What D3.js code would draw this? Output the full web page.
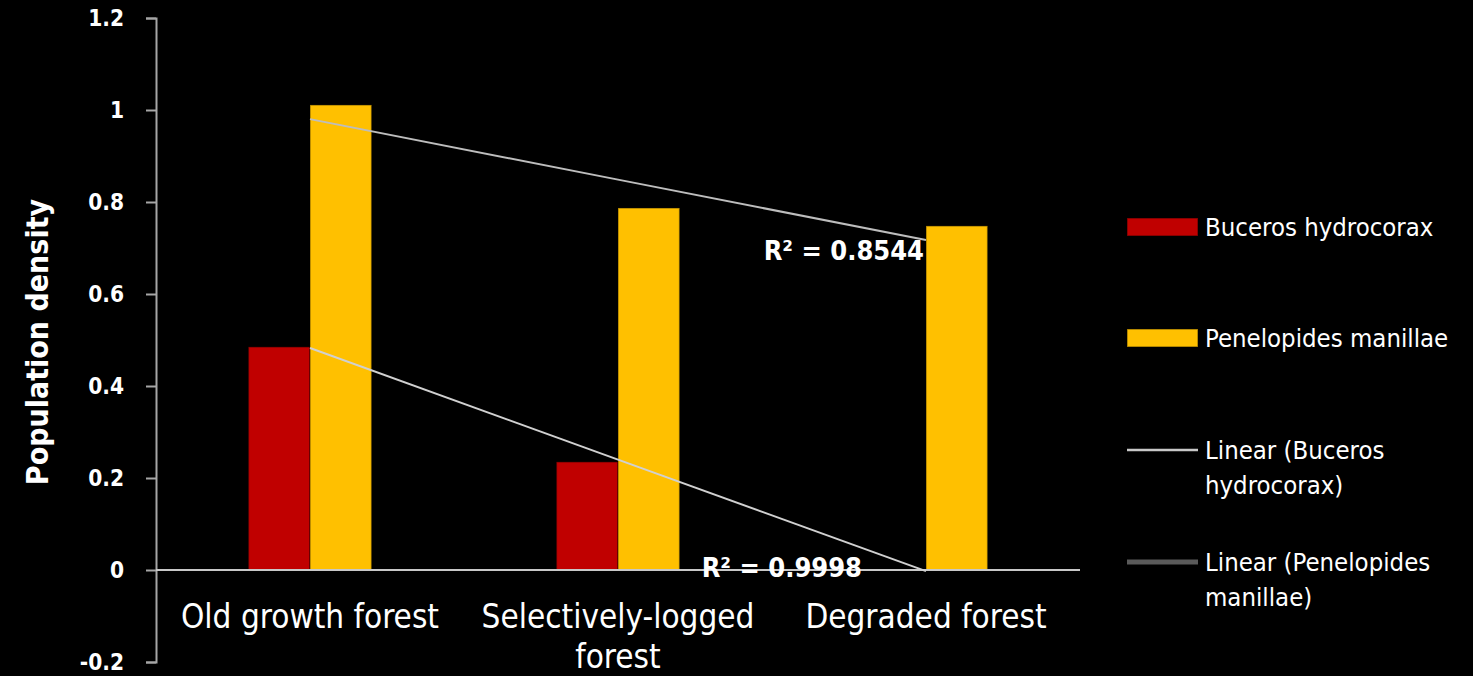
<!DOCTYPE html>
<html lang="en">
<head>
    <meta charset="UTF-8">
    <title>Population density</title>
    <script src="https://d3js.org/d3.v7.min.js"></script>
    <style>
        body { margin: 0; background: #000; }
        svg { display: block; }
        text { fill: #fff; font-family: "Liberation Sans Narrow", "DejaVu Sans Condensed", "Roboto", sans-serif; }
        .tick text { font-weight: bold; font-size: 22.5px; }
        .axis path, .axis line { stroke: #a6a6a6; stroke-width: 2px; }
    </style>
</head>
<body>
    <div id="chart"></div>
    <script>
        // Data
        const categories = ["Old growth forest", "Selectively-logged forest", "Degraded forest"];
        const series = ["Buceros hydrocorax", "Penelopides manillae"];
        const buceros = [0.485, 0.235, 0];
        const penelopides = [1.011, 0.787, 0.748];
        const rSquared = ["0.9998", "0.8544"];
        const yTicks = [-0.2, 0, 0.2, 0.4, 0.6, 0.8, 1, 1.2];
        const colors = ["#c00000", "#ffc000"];

        const W = 1473, H = 676;
        const plotLeft = 156, plotRight = 1080, plotTop = 18, plotBottom = 662;

        const svg = d3.select("#chart").append("svg")
            .attr("width", W)
            .attr("height", H);

        const values = [buceros, penelopides];

        // Scales
        const x0 = d3.scaleBand().domain(categories).range([plotLeft, plotRight]).paddingInner(0.6).paddingOuter(0.3);
        const x1 = d3.scaleBand().domain(series).range([0, x0.bandwidth()]);
        const y = d3.scaleLinear().domain([-0.2, 1.2]).range([plotBottom, plotTop]);

        // Bars
        series.forEach((s, si) => {
            svg.append("g").selectAll("rect")
                .data(values[si])
                .enter().append("rect")
                .attr("x", (d, i) => x0(categories[i]) + x1(s))
                .attr("y", d => y(Math.max(0, d)))
                .attr("width", x1.bandwidth())
                .attr("height", d => Math.abs(y(d) - y(0)))
                .attr("fill", colors[si])
                .attr("stroke", "rgba(0,0,0,0.35)")
                .attr("stroke-width", 1.5);
        });

        // Y axis
        svg.append("g")
            .attr("class", "axis")
            .attr("transform", "translate(" + plotLeft + ",0)")
            .call(d3.axisLeft(y).tickValues(yTicks).tickSize(10).tickSizeOuter(10).tickPadding(22)
                .tickFormat(d => String(+d.toFixed(1))));

        // Zero line
        svg.append("line")
            .attr("x1", plotLeft).attr("x2", plotRight)
            .attr("y1", y(0)).attr("y2", y(0))
            .attr("stroke", "#c8c8c8")
            .attr("stroke-width", 2);

        // Linear trendlines (least squares over category index)
        function fit(vals) {
            const xs = vals.map((d, i) => i + 1);
            const mx = d3.mean(xs), my = d3.mean(vals);
            const b = d3.sum(xs, (xv, i) => (xv - mx) * (vals[i] - my)) / d3.sum(xs, xv => (xv - mx) * (xv - mx));
            const a = my - b * mx;
            return xs.map(xv => a + b * xv);
        }
        const cx = c => x0(c) + x0.bandwidth() / 2;
        const trendColors = ["#d0d0d0", "#bdbdbd"];
        const labelShift = [[-64, 6], [-2, 20]];
        values.forEach((vals, si) => {
            const pts = fit(vals);
            const line = d3.line().x((d, i) => cx(categories[i])).y(d => y(d));
            svg.append("path")
                .datum(pts)
                .attr("d", line)
                .attr("fill", "none")
                .attr("stroke", trendColors[si])
                .attr("stroke-width", 2);
            const last = pts[pts.length - 1];
            svg.append("text")
                .attr("x", cx(categories[2]) + labelShift[si][0])
                .attr("y", y(last) + labelShift[si][1])
                .attr("text-anchor", "end")
                .attr("font-size", "27px")
                .attr("font-weight", "bold")
                .text("R² = " + rSquared[si]);
        });

        // Category labels
        const wrapped = [["Old growth forest"], ["Selectively-logged", "forest"], ["Degraded forest"]];
        categories.forEach((c, i) => {
            const t = svg.append("text")
                .attr("x", cx(c))
                .attr("y", 628)
                .attr("text-anchor", "middle")
                .attr("font-size", "33px");
            wrapped[i].forEach((ln, j) => {
                t.append("tspan").attr("x", cx(c)).attr("dy", j === 0 ? 0 : 40).text(ln);
            });
        });

        // Y axis title
        svg.append("text")
            .attr("transform", "translate(48,342) rotate(-90)")
            .attr("text-anchor", "middle")
            .attr("font-size", "30px")
            .attr("font-weight", "bold")
            .text("Population density");

        // Legend
        const legendItems = [
            {type: "rect", color: colors[0], lines: ["Buceros hydrocorax"]},
            {type: "rect", color: colors[1], lines: ["Penelopides manillae"]},
            {type: "line", color: "#c8c8c8", width: 2.5, lines: ["Linear (Buceros", "hydrocorax)"]},
            {type: "line", color: "#5a5a5a", width: 5, lines: ["Linear (Penelopides", "manillae)"]}
        ];
        const legendY = [227, 338, 450, 562];
        legendItems.forEach((it, i) => {
            const g = svg.append("g").attr("transform", "translate(1127," + legendY[i] + ")");
            if (it.type === "rect") {
                g.append("rect").attr("x", 0).attr("y", -9).attr("width", 71).attr("height", 18)
                    .attr("fill", it.color).attr("stroke", "rgba(0,0,0,0.4)").attr("stroke-width", 1.5);
            } else {
                g.append("line").attr("x1", 0).attr("x2", 71).attr("y1", 0).attr("y2", 0)
                    .attr("stroke", it.color).attr("stroke-width", it.width);
            }
            const t = g.append("text").attr("x", 78).attr("y", 9).attr("font-size", "25.5px");
            it.lines.forEach((ln, j) => {
                t.append("tspan").attr("x", 78).attr("dy", j === 0 ? 0 : 35).text(ln);
            });
        });
    </script>
</body>
</html>
